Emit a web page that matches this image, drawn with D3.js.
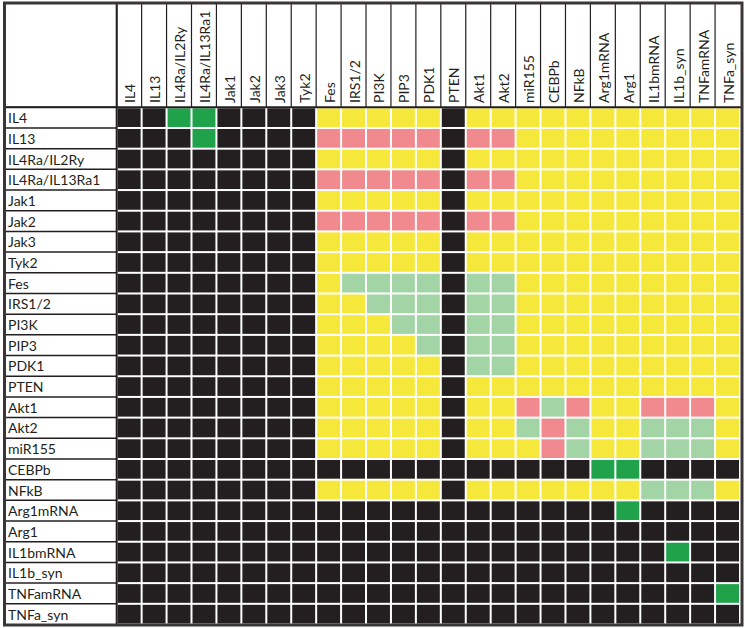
<!DOCTYPE html>
<html>
<head>
<meta charset="utf-8">
<script src="https://cdn.jsdelivr.net/npm/d3@7/dist/d3.min.js"></script>
<style>
html,body{margin:0;padding:0;background:#fff;}
svg{display:block;}
text{font-family:Lato,"Open Sans",sans-serif;fill:#231f20;}
</style>
</head>
<body>
<script>
// Row and column labels (same list)
const nodes = ["IL4","IL13","IL4Ra/IL2Ry","IL4Ra/IL13Ra1","Jak1","Jak2","Jak3","Tyk2","Fes","IRS1/2","PI3K","PIP3","PDK1","PTEN","Akt1","Akt2","miR155","CEBPb","NFkB","Arg1mRNA","Arg1","IL1bmRNA","IL1b_syn","TNFamRNA","TNFa_syn"];

// Cell states per row: K = black, Y = yellow, P = pink, L = light green, G = dark green
const rowIL4        = "KKGGKKKKYYYYYKYYYYYYYYYYY";
const rowIL13       = "KKKGKKKKPPPPPKPPYYYYYYYYY";
const rowIL4RaIL2Ry = "KKKKKKKKYYYYYKYYYYYYYYYYY";
const rowIL4RaIL13  = "KKKKKKKKPPPPPKPPYYYYYYYYY";
const rowJak1       = "KKKKKKKKYYYYYKYYYYYYYYYYY";
const rowJak2       = "KKKKKKKKPPPPPKPPYYYYYYYYY";
const rowJak3       = "KKKKKKKKYYYYYKYYYYYYYYYYY";
const rowTyk2       = "KKKKKKKKYYYYYKYYYYYYYYYYY";
const rowFes        = "KKKKKKKKYLLLLKLLYYYYYYYYY";
const rowIRS        = "KKKKKKKKYYLLLKLLYYYYYYYYY";
const rowPI3K       = "KKKKKKKKYYYLLKLLYYYYYYYYY";
const rowPIP3       = "KKKKKKKKYYYYLKLLYYYYYYYYY";
const rowPDK1       = "KKKKKKKKYYYYYKLLYYYYYYYYY";
const rowPTEN       = "KKKKKKKKYYYYYKYYYYYYYYYYY";
const rowAkt1       = "KKKKKKKKYYYYYKYYPLPYYPPPY";
const rowAkt2       = "KKKKKKKKYYYYYKYYLPLYYLLLY";
const rowMiR155     = "KKKKKKKKYYYYYKYYYPLYYLLLY";
const rowCEBPb      = "KKKKKKKKKKKKKKKKKKKGGKKKK";
const rowNFkB       = "KKKKKKKKYYYYYKYYYYYYYLLLY";
const rowArg1mRNA   = "KKKKKKKKKKKKKKKKKKKKGKKKK";
const rowArg1       = "KKKKKKKKKKKKKKKKKKKKKKKKK";
const rowIL1bmRNA   = "KKKKKKKKKKKKKKKKKKKKKKGKK";
const rowIL1bSyn    = "KKKKKKKKKKKKKKKKKKKKKKKKK";
const rowTNFamRNA   = "KKKKKKKKKKKKKKKKKKKKKKKKG";
const rowTNFaSyn    = "KKKKKKKKKKKKKKKKKKKKKKKKK";

const rows = [rowIL4,rowIL13,rowIL4RaIL2Ry,rowIL4RaIL13,rowJak1,rowJak2,rowJak3,rowTyk2,rowFes,rowIRS,rowPI3K,rowPIP3,rowPDK1,rowPTEN,rowAkt1,rowAkt2,rowMiR155,rowCEBPb,rowNFkB,rowArg1mRNA,rowArg1,rowIL1bmRNA,rowIL1bSyn,rowTNFamRNA,rowTNFaSyn];

const states = ["K","Y","P","L","G"];
const stateColors = ["#231f20","#f5e83a","#f08a8e","#a2d4a6","#1fa24a"];

const cells = [];
rows.forEach((r,i)=>{ for(let j=0;j<r.length;j++) cells.push({row:nodes[i], col:nodes[j], s:r[j]}); });

const W=745,H=628;
const L=5, T=3.5, R=741, B=624.5;
const gx0=116.7, gy0=107.3;

const svg = d3.select("body").append("svg").attr("width",W).attr("height",H);

const x = d3.scaleBand().domain(nodes).range([gx0,R-1]).padding(0);
const y = d3.scaleBand().domain(nodes).range([gy0,B]).padding(0);
const color = d3.scaleOrdinal().domain(states).range(stateColors);

// background white
svg.append("rect").attr("x",L).attr("y",T).attr("width",R-L).attr("height",B-T).attr("fill","#fff");

// cells
svg.append("g").selectAll("rect").data(cells).join("rect")
  .attr("x",d=>x(d.col)+1).attr("y",d=>y(d.row)+1)
  .attr("width",x.bandwidth()-2).attr("height",y.bandwidth()-2)
  .attr("fill",d=>color(d.s));

// header vertical lines
svg.append("g").selectAll("line").data(nodes).join("line")
  .attr("x1",d=>x(d)).attr("x2",d=>x(d)).attr("y1",T).attr("y2",gy0)
  .attr("stroke","#231f20").attr("stroke-width",1.2);

// row label separators
svg.append("g").selectAll("line").data(nodes).join("line")
  .attr("x1",L).attr("x2",gx0).attr("y1",d=>y(d)).attr("y2",d=>y(d))
  .attr("stroke","#231f20").attr("stroke-width",1.5);

// header bottom line and label column line
svg.append("line").attr("x1",L).attr("x2",R).attr("y1",gy0).attr("y2",gy0).attr("stroke","#231f20").attr("stroke-width",2);
svg.append("line").attr("x1",gx0).attr("x2",gx0).attr("y1",T).attr("y2",B).attr("stroke","#231f20").attr("stroke-width",2);

// row labels
svg.append("g").selectAll("text").data(nodes).join("text")
  .attr("x",8).attr("y",d=>y(d)+y.bandwidth()/2+5.5)
  .attr("font-size",14).text(d=>d);

// column labels
svg.append("g").selectAll("text").data(nodes).join("text")
  .attr("transform",d=>`translate(${x(d)+x.bandwidth()/2+6},103) rotate(-90)`)
  .attr("font-size",14).text(d=>d);

// outer border
svg.append("rect").attr("x",L-0.5).attr("y",T-0.5).attr("width",R-L+1.5).attr("height",B-T+1)
  .attr("fill","none").attr("stroke","#3a3637").attr("stroke-width",3);
</script>
</body>
</html>
